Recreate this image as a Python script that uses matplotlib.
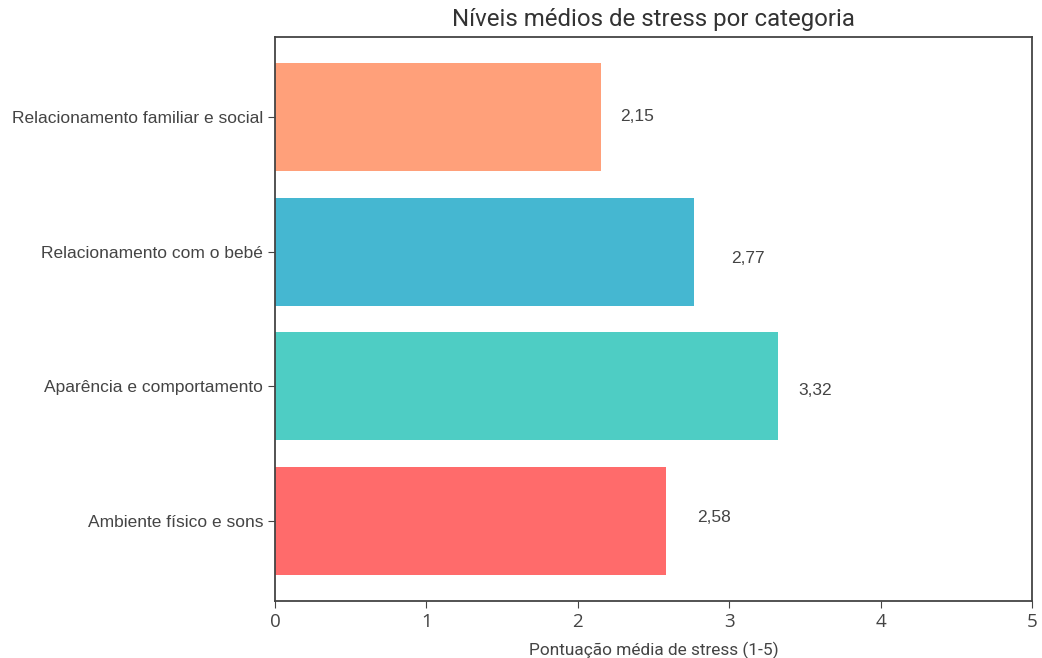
import matplotlib
matplotlib.use("Agg")
import matplotlib.pyplot as plt

categories = ["Ambiente físico e sons", "Aparência e comportamento",
              "Relacionamento com o bebé", "Relacionamento familiar e social"]
values = [2.58, 3.32, 2.77, 2.15]
value_labels = ["2,58", "3,32", "2,77", "2,15"]
colors = ["#FF6B6B", "#4ECDC4", "#45B7D1", "#FFA07A"]
label_dx = [0.21, 0.14, 0.24, 0.13]
label_dy = [0.03, -0.033, -0.048, 0.0]
x_ticks = [0, 1, 2, 3, 4, 5]

fig = plt.figure(figsize=(10.42, 6.58), dpi=100)
ax = fig.add_axes([275/1042, 1-601/658, (1032-275)/1042, (601-37)/658])

ypos = list(range(len(categories)))
ax.barh(ypos, values, color=colors, height=0.8)
for y, v, lab, dx, dy in zip(ypos, values, value_labels, label_dx, label_dy):
    ax.text(v + dx, y + dy, lab, va="center", ha="left", fontsize=12.5,
            family="Liberation Sans", color="#444444")

ax.set_yticks(ypos)
ax.set_yticklabels(categories, family="Liberation Sans", fontsize=12.5, color="#444444")
ax.set_xlim(0, 5)
ax.set_xticks(x_ticks)
ax.set_xticklabels([str(t) for t in x_ticks], family="Open Sans", fontsize=13.5, color="#333333")
ax.set_xlabel("Pontuação média de stress (1-5)", family="Roboto", fontsize=12.4, color="#444444", labelpad=8)
ax.set_title("Níveis médios de stress por categoria", family="Roboto", fontsize=17.3, color="#333333", pad=8)
for s in ax.spines.values():
    s.set_color("#444444")
    s.set_linewidth(1.3)
ax.tick_params(colors="#444444", length=5)

fig.savefig("out.png", dpi=100)
